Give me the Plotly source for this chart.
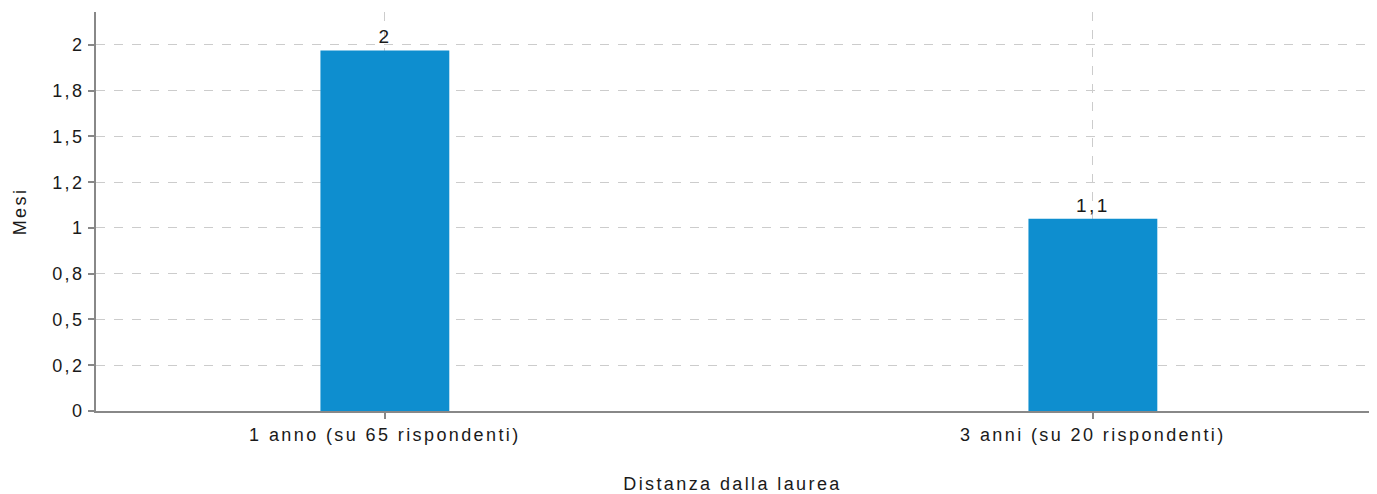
import plotly.graph_objects as go

categories = ["1 anno (su 65 rispondenti)", "3 anni (su 20 rispondenti)"]
mesi = [1.97, 1.05]
bar_labels = ["2", "1,1"]
y_tickvals = [0, 0.25, 0.5, 0.75, 1, 1.25, 1.5, 1.75, 2]
y_ticktext = ["0", "0,2", "0,5", "0,8", "1", "1,2", "1,5", "1,8", "2"]

fam = "Liberation Sans, Arial, sans-serif"
font = dict(family=fam, size=18, color="#1a1a1a")

fig = go.Figure()
fig.add_trace(go.Bar(
    x=[0, 1], y=mesi, width=0.182, marker=dict(color="#0e8ecf", line=dict(width=0)),
    text=bar_labels, textposition="outside", cliponaxis=False,
    textfont=dict(family=fam, size=19, color="#1a1a1a"),
    hoverinfo="skip",
))
axis_style = dict(showgrid=True, gridcolor="#cccccc", griddash="dash", gridwidth=1,
                  showline=True, linecolor="#888", linewidth=2, ticks="outside",
                  ticklen=6, tickcolor="#888", tickwidth=2, zeroline=False,
                  tickfont=font, automargin=False)
fig.update_layout(
    template="plotly_white", width=1377, height=494, showlegend=False,
    font=font, plot_bgcolor="white", paper_bgcolor="white",
    margin=dict(l=96, r=8, t=12, b=83),
    xaxis=dict(range=[-0.408, 1.39], tickvals=[0, 1], ticktext=categories,
               title=dict(text="Distanza dalla laurea", standoff=36, font=font),
               **axis_style),
    yaxis=dict(range=[0, 2.18], tickvals=y_tickvals, ticktext=y_ticktext,
               title=dict(text="Mesi", standoff=28, font=font),
               **axis_style),
)

# page without body margin, text drawn with a little letter spacing like the original
post = ("document.body.style.margin='0';"
        "var s=document.createElement('style');"
        "s.textContent='.main-svg text{letter-spacing:2.4px}';"
        "document.head.appendChild(s);")
fig.write_html("out.html", post_script=post, config={"displayModeBar": False})
